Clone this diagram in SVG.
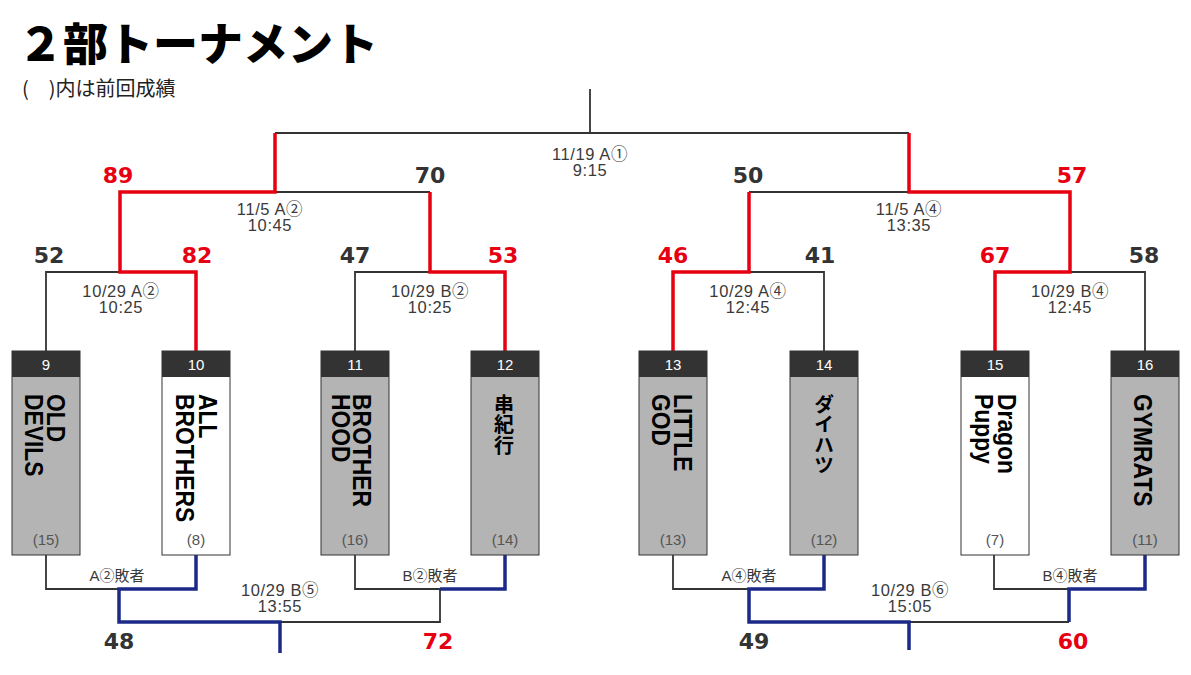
<svg xmlns="http://www.w3.org/2000/svg" width="1191" height="675" viewBox="0 0 1191 675">
<style>
.bg{fill:#ffffff}
.k{fill:none;stroke:#333333;stroke-width:1.8}
.r{fill:none;stroke:#e60012;stroke-width:3.5}
.b{fill:none;stroke:#1b2a88;stroke-width:3.5}
.box{stroke:#333333;stroke-width:1}
.gray{fill:#b4b4b4}
.white{fill:#ffffff}
.hdr{fill:#333333}
.num{font-family:"Liberation Sans","Noto Sans CJK JP",sans-serif;font-size:15px;fill:#ffffff;text-anchor:middle}
.prev{font-family:"Liberation Sans","Noto Sans CJK JP",sans-serif;font-size:15px;fill:#555555;text-anchor:middle}
.tn{font-family:"Liberation Sans","Noto Sans CJK JP",sans-serif;font-size:26px;font-weight:bold;fill:#000000}
.tj{font-family:"Noto Sans CJK JP",sans-serif;font-size:20px;font-weight:bold;fill:#000000;writing-mode:vertical-rl;text-orientation:upright;letter-spacing:0.5px}
.sc{font-family:"DejaVu Sans",sans-serif;font-size:22px;font-weight:bold;text-anchor:middle}
.sk{fill:#333333}
.sr{fill:#e60012}
.dt{font-family:"Liberation Sans","Noto Sans CJK JP",sans-serif;font-size:16.5px;fill:#3a3a3a;text-anchor:middle;letter-spacing:0.6px}
.ls{font-family:"Liberation Sans","Noto Sans CJK JP",sans-serif;font-size:15px;fill:#3a3a3a;text-anchor:middle}
</style>
<rect class="bg" x="0" y="0" width="1191" height="675"/>
<g id="title">
<text font-family="'Noto Sans CJK JP',sans-serif" fill="#000"><tspan x="18" y="61" font-size="45" font-weight="900">２部トーナメント</tspan><tspan x="22" y="96" font-size="20" fill="#222">(　)内は前回成績</tspan></text>
</g>
<g id="connectors">
<path class="k" d="M590,89V133M275,133H909M275,192H430M749,192H909"/>
<path class="k" d="M46,351V272H120M355,351V272H430M749,272H824V351M1070,272H1145V351"/>
<path class="k" d="M46,555V589H119M355,555V589H440V622H280M673,555V589H749M994,555V589H1069M909,622H1069"/>
<path class="r" d="M275,133V192H120V272H196V351"/>
<path class="r" d="M430,192V272H505V351"/>
<path class="r" d="M909,133V192H1070V272H995V351"/>
<path class="r" d="M749,192V272H673V351"/>
<path class="b" d="M196,555V589H119V622H280V653"/>
<path class="b" d="M505,555V589H440"/>
<path class="b" d="M824,555V589H749V622H909V650"/>
<path class="b" d="M1145,555V589H1069V622"/>
</g>
<g id="labels">
<text class="dt"><tspan x="590" y="160">11/19 A①</tspan><tspan x="590" y="176">9:15</tspan></text>
<text class="dt"><tspan x="270" y="215">11/5 A②</tspan><tspan x="270" y="231">10:45</tspan></text>
<text class="dt"><tspan x="909" y="215">11/5 A④</tspan><tspan x="909" y="231">13:35</tspan></text>
<text class="dt"><tspan x="121" y="297">10/29 A②</tspan><tspan x="121" y="313">10:25</tspan></text>
<text class="dt"><tspan x="430" y="297">10/29 B②</tspan><tspan x="430" y="313">10:25</tspan></text>
<text class="dt"><tspan x="748" y="297">10/29 A④</tspan><tspan x="748" y="313">12:45</tspan></text>
<text class="dt"><tspan x="1070" y="297">10/29 B④</tspan><tspan x="1070" y="313">12:45</tspan></text>
<text class="dt"><tspan x="280" y="596">10/29 B⑤</tspan><tspan x="280" y="612">13:55</tspan></text>
<text class="dt"><tspan x="910" y="596">10/29 B⑥</tspan><tspan x="910" y="612">15:05</tspan></text>
<text class="ls" x="117" y="581">A②敗者</text>
<text class="ls" x="430" y="581">B②敗者</text>
<text class="ls" x="749" y="581">A④敗者</text>
<text class="ls" x="1070" y="581">B④敗者</text>
</g>
<g id="scores">
<text class="sc sr" x="118" y="183">89</text>
<text class="sc sk" x="430" y="183">70</text>
<text class="sc sk" x="748" y="183">50</text>
<text class="sc sr" x="1072" y="183">57</text>
<text class="sc sk" x="49" y="263">52</text>
<text class="sc sr" x="197" y="263">82</text>
<text class="sc sk" x="355" y="263">47</text>
<text class="sc sr" x="503" y="263">53</text>
<text class="sc sr" x="673" y="263">46</text>
<text class="sc sk" x="820" y="263">41</text>
<text class="sc sr" x="995" y="263">67</text>
<text class="sc sk" x="1144" y="263">58</text>
<text class="sc sk" x="119" y="649">48</text>
<text class="sc sr" x="438" y="649">72</text>
<text class="sc sk" x="754" y="649">49</text>
<text class="sc sr" x="1073" y="649">60</text>
</g>
<g id="team9">
<rect class="box gray" x="12" y="351" width="68" height="204"/>
<rect class="hdr" x="12" y="351" width="68" height="26"/>
<text class="num" x="46" y="370">9</text>
<text class="tn" transform="translate(47,394) rotate(90) scale(0.88,1)"><tspan x="0" y="0">OLD</tspan><tspan x="0" y="22">DEVILS</tspan></text>
<text class="prev" x="46" y="545">(15)</text>
</g>
<g id="team10">
<rect class="box white" x="162" y="351" width="68" height="204"/>
<rect class="hdr" x="162" y="351" width="68" height="26"/>
<text class="num" x="196" y="370">10</text>
<text class="tn" transform="translate(199,394) rotate(90) scale(0.88,1)"><tspan x="0" y="0">ALL</tspan><tspan x="0" y="23">BROTHERS</tspan></text>
<text class="prev" x="196" y="545">(8)</text>
</g>
<g id="team11">
<rect class="box gray" x="321" y="351" width="68" height="204"/>
<rect class="hdr" x="321" y="351" width="68" height="26"/>
<text class="num" x="355" y="370">11</text>
<text class="tn" transform="translate(353,394) rotate(90) scale(0.88,1)"><tspan x="0" y="0">BROTHER</tspan><tspan x="0" y="21">HOOD</tspan></text>
<text class="prev" x="355" y="545">(16)</text>
</g>
<g id="team12">
<rect class="box gray" x="471" y="351" width="68" height="204"/>
<rect class="hdr" x="471" y="351" width="68" height="26"/>
<text class="num" x="505" y="370">12</text>
<text class="tj" x="504" y="394">串紀行</text>
<text class="prev" x="505" y="545">(14)</text>
</g>
<g id="team13">
<rect class="box gray" x="639" y="351" width="68" height="204"/>
<rect class="hdr" x="639" y="351" width="68" height="26"/>
<text class="num" x="673" y="370">13</text>
<text class="tn" transform="translate(674,394) rotate(90) scale(0.88,1)"><tspan x="0" y="0">LITTLE</tspan><tspan x="0" y="22">GOD</tspan></text>
<text class="prev" x="673" y="545">(13)</text>
</g>
<g id="team14">
<rect class="box gray" x="790" y="351" width="68" height="204"/>
<rect class="hdr" x="790" y="351" width="68" height="26"/>
<text class="num" x="824" y="370">14</text>
<text class="tj" x="824" y="394">ダイハツ</text>
<text class="prev" x="824" y="545">(12)</text>
</g>
<g id="team15">
<rect class="box white" x="961" y="351" width="68" height="204"/>
<rect class="hdr" x="961" y="351" width="68" height="26"/>
<text class="num" x="995" y="370">15</text>
<text class="tn" transform="translate(998,394) rotate(90) scale(0.88,1)"><tspan x="0" y="0">Dragon</tspan><tspan x="0" y="23">Puppy</tspan></text>
<text class="prev" x="995" y="545">(7)</text>
</g>
<g id="team16">
<rect class="box gray" x="1111" y="351" width="68" height="204"/>
<rect class="hdr" x="1111" y="351" width="68" height="26"/>
<text class="num" x="1145" y="370">16</text>
<text class="tn" transform="translate(1134,394) rotate(90) scale(0.88,1)">GYMRATS</text>
<text class="prev" x="1145" y="545">(11)</text>
</g>
</svg>
